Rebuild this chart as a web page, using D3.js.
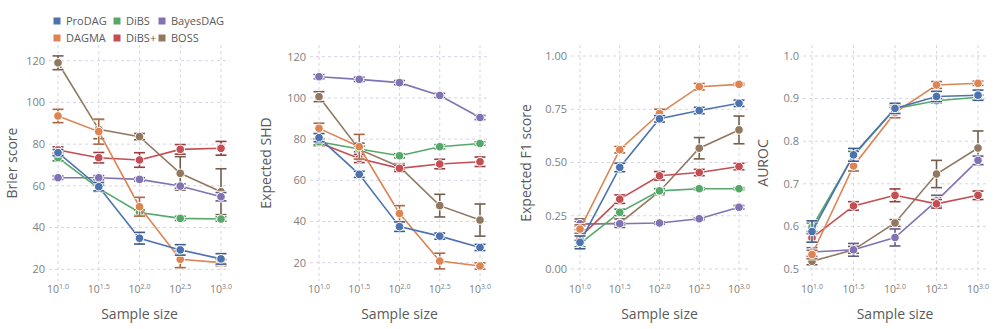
<!DOCTYPE html>
<html>
<head>
<meta charset="utf-8">
<script src="https://cdn.jsdelivr.net/npm/d3@7"></script>
<style>
  body { margin: 0; background: #fff; }
  text { font-family: "Open Sans", sans-serif; }
</style>
</head>
<body>
<div id="chart"></div>
<script>
// methods, in legend order
var methods = ["ProDAG", "DiBS", "BayesDAG", "DAGMA", "DiBS+", "BOSS"];
var colors = ["#4c72b0", "#55a868", "#8172b3", "#dd8452", "#c44e52", "#937860"];
var sampleExp = [1.0, 1.5, 2.0, 2.5, 3.0];

// Brier score (rows follow methods)
var brierMean = [
  [75.9, 59.6, 34.9, 29.3, 25.0],
  [73.5, 58.8, 47.2, 44.4, 44.1],
  [63.9, 63.9, 63.1, 59.9, 54.8],
  [93.5, 86.0, 50.0, 24.8, 23.2],
  [77.2, 73.5, 72.4, 77.5, 78.0],
  [119.0, 87.1, 83.6, 66.0, 57.2]
];
var brierErr = [
  [1.5, 2, 2.8, 2.5, 2.5],
  [1.5, 1.5, 1.2, 1, 1],
  [0.8, 1, 0.8, 1, 2],
  [3.2, 6, 4.5, 4, 1.5],
  [1.5, 2.5, 3.5, 2.3, 3.3],
  [3.3, 4.5, 1.5, 8, 11]
];

// Expected SHD
var shdMean = [
  [80.7, 62.9, 37.5, 32.9, 27.4],
  [78.7, 75.2, 71.9, 76.3, 77.9],
  [110.3, 109.0, 107.4, 101.2, 90.5],
  [85.2, 76.3, 43.9, 20.8, 18.4],
  [78.2, 70.6, 65.8, 67.9, 69.0],
  [100.6, 75.0, 66.6, 47.7, 40.7]
];
var shdErr = [
  [2, 1.5, 2.3, 1.5, 1.5],
  [1.5, 1.3, 1, 1, 0.8],
  [1, 1, 1, 1, 1],
  [2.5, 6, 3.8, 3.8, 1.5],
  [1.5, 2, 1.5, 2.3, 2.3],
  [2.4, 3, 1.5, 5.5, 7.8]
];

// Expected F1 score
var f1Mean = [
  [0.125, 0.477, 0.705, 0.744, 0.778],
  [0.119, 0.266, 0.367, 0.377, 0.377],
  [0.2125, 0.2125, 0.216, 0.236, 0.29],
  [0.1875, 0.56, 0.73, 0.856, 0.867],
  [0.15, 0.328, 0.4375, 0.453, 0.481],
  [0.21, 0.215, 0.364, 0.567, 0.653]
];
var f1Err = [
  [0.03, 0.02, 0.015, 0.015, 0.015],
  [0.015, 0.015, 0.01, 0.005, 0.005],
  [0.01, 0.005, 0.005, 0.005, 0.008],
  [0.02, 0.015, 0.02, 0.015, 0.005],
  [0.015, 0.02, 0.02, 0.015, 0.015],
  [0.025, 0.02, 0.015, 0.05, 0.065]
];

// AUROC
var aurocMean = [
  [0.588, 0.768, 0.877, 0.905, 0.908],
  [0.598, 0.766, 0.876, 0.895, 0.903],
  [0.54, 0.545, 0.574, 0.66, 0.755],
  [0.534, 0.742, 0.867, 0.932, 0.936],
  [0.573, 0.648, 0.673, 0.653, 0.673],
  [0.518, 0.545, 0.608, 0.723, 0.784]
];
var aurocErr = [
  [0.025, 0.015, 0.012, 0.012, 0.012],
  [0.01, 0.01, 0.01, 0.005, 0.005],
  [0.01, 0.015, 0.02, 0.013, 0.01],
  [0.01, 0.012, 0.012, 0.008, 0.005],
  [0.01, 0.01, 0.015, 0.01, 0.01],
  [0.008, 0.008, 0.008, 0.032, 0.04]
];

var brierTicks = [20, 40, 60, 80, 100, 120];
var shdTicks = [20, 40, 60, 80, 100, 120];
var f1Ticks = [0, 0.25, 0.5, 0.75, 1];
var aurocTicks = [0.5, 0.6, 0.7, 0.8, 0.9, 1.0];

var svgWidth = 996;
var svgHeight = 329;
var plotTop = 45, plotBottom = 281;

var panels = [
  { title: "Brier score", mean: brierMean, err: brierErr, ticks: brierTicks, fmt: d3.format("d"),
    x0: 58, x1: 221, yLo: [20, 269.3], yHi: [120, 60.7], titleX: 12 },
  { title: "Expected SHD", mean: shdMean, err: shdErr, ticks: shdTicks, fmt: d3.format("d"),
    x0: 319, x1: 480, yLo: [20, 262.7], yHi: [120, 56.7], titleX: 266 },
  { title: "Expected F1 score", mean: f1Mean, err: f1Err, ticks: f1Ticks, fmt: d3.format(".2f"),
    x0: 580, x1: 739, yLo: [0, 269], yHi: [1, 56], titleX: 526 },
  { title: "AUROC", mean: aurocMean, err: aurocErr, ticks: aurocTicks, fmt: d3.format(".1f"),
    x0: 812, x1: 978, yLo: [0.5, 269], yHi: [1.0, 56], titleX: 763 }
];

var svg = d3.select("#chart")
  .append("svg")
  .attr("width", svgWidth)
  .attr("height", svgHeight);

// draw order: ProDAG ends up on top
var drawOrder = [5, 2, 4, 1, 3, 0];

panels.forEach(function(p) {
  var xScale = d3.scaleLog()
    .domain([Math.pow(10, 1), Math.pow(10, 3)])
    .range([p.x0, p.x1]);
  var yScale = d3.scaleLinear()
    .domain([p.yLo[0], p.yHi[0]])
    .range([p.yLo[1], p.yHi[1]]);

  var left = p.x0 - 9, right = p.x1 + 9;
  var g = svg.append("g");

  // grid
  g.selectAll(".hgrid")
    .data(p.ticks)
    .enter()
    .append("line")
    .attr("x1", left).attr("x2", right)
    .attr("y1", d => yScale(d)).attr("y2", d => yScale(d))
    .attr("stroke", "#d4d4e8")
    .attr("stroke-width", 1)
    .attr("stroke-dasharray", "3,3");

  g.selectAll(".vgrid")
    .data(sampleExp)
    .enter()
    .append("line")
    .attr("x1", d => xScale(Math.pow(10, d))).attr("x2", d => xScale(Math.pow(10, d)))
    .attr("y1", plotTop).attr("y2", plotBottom)
    .attr("stroke", "#d4d4e8")
    .attr("stroke-width", 1)
    .attr("stroke-dasharray", "3,3");

  // y tick labels
  g.selectAll(".ytick")
    .data(p.ticks)
    .enter()
    .append("text")
    .attr("x", left - 4)
    .attr("y", d => yScale(d))
    .attr("dy", "0.35em")
    .attr("text-anchor", "end")
    .attr("font-size", "11px")
    .attr("fill", "#808080")
    .text(d => p.fmt(d));

  // x tick labels: 10 with superscript exponent
  var xt = g.selectAll(".xtick")
    .data(sampleExp)
    .enter()
    .append("text")
    .attr("x", d => xScale(Math.pow(10, d)))
    .attr("y", 293)
    .attr("text-anchor", "middle")
    .attr("font-size", "10.5px")
    .attr("fill", "#808080");
  xt.append("tspan").text("10");
  xt.append("tspan")
    .attr("dy", "-4")
    .attr("font-size", "7px")
    .text(d => d.toFixed(1));

  // axis titles
  g.append("text")
    .attr("transform", `translate(${p.titleX}, ${(plotTop + plotBottom) / 2}) rotate(-90)`)
    .attr("dy", "0.35em")
    .attr("text-anchor", "middle")
    .attr("font-size", "14px")
    .attr("fill", "#5a5a5a")
    .text(p.title);

  g.append("text")
    .attr("x", (p.x0 + p.x1) / 2)
    .attr("y", 319)
    .attr("text-anchor", "middle")
    .attr("font-size", "14px")
    .attr("fill", "#5a5a5a")
    .text("Sample size");

  var line = d3.line()
    .x(d => xScale(Math.pow(10, d.e)))
    .y(d => yScale(d.v));

  drawOrder.forEach(function(m) {
    var pts = sampleExp.map(function(e, i) {
      return { e: e, v: p.mean[m][i], s: p.err[m][i] };
    });
    var c = colors[m];
    var dark = d3.color(c).darker(0.7).formatHex();
    var sg = g.append("g");

    sg.append("path")
      .datum(pts)
      .attr("d", line)
      .attr("fill", "none")
      .attr("stroke", c)
      .attr("stroke-width", 1.6);

    // error bars
    var eb = sg.selectAll(".eb")
      .data(pts)
      .enter()
      .append("g");
    [["white", 3.2], [dark, 1.6]].forEach(function(st) {
      eb.append("line")
        .attr("x1", d => xScale(Math.pow(10, d.e))).attr("x2", d => xScale(Math.pow(10, d.e)))
        .attr("y1", d => yScale(d.v - d.s)).attr("y2", d => yScale(d.v + d.s))
        .attr("stroke", st[0]).attr("stroke-width", st[1]);
      [-1, 1].forEach(function(sgn) {
        eb.append("line")
          .attr("x1", d => xScale(Math.pow(10, d.e)) - 5.5)
          .attr("x2", d => xScale(Math.pow(10, d.e)) + 5.5)
          .attr("y1", d => yScale(d.v + sgn * d.s))
          .attr("y2", d => yScale(d.v + sgn * d.s))
          .attr("stroke", st[0]).attr("stroke-width", st[1]);
      });
    });

    sg.selectAll("circle")
      .data(pts)
      .enter()
      .append("circle")
      .attr("cx", d => xScale(Math.pow(10, d.e)))
      .attr("cy", d => yScale(d.v))
      .attr("r", 4.3)
      .attr("fill", c)
      .attr("stroke", "white")
      .attr("stroke-width", 1);
  });
});

// legend
var legendCols = [57, 117, 162];
var legendRows = [21, 38];
var legend = svg.append("g");
methods.forEach(function(name, i) {
  var lx = legendCols[i % 3], ly = legendRows[Math.floor(i / 3)];
  legend.append("rect")
    .attr("x", lx - 3.5).attr("y", ly - 3.5)
    .attr("width", 7).attr("height", 7)
    .attr("fill", colors[i]);
  legend.append("text")
    .attr("x", lx + 9)
    .attr("y", ly)
    .attr("dy", "0.35em")
    .attr("font-size", "11px")
    .attr("fill", "#5a5a5a")
    .text(name);
});
</script>
</body>
</html>
